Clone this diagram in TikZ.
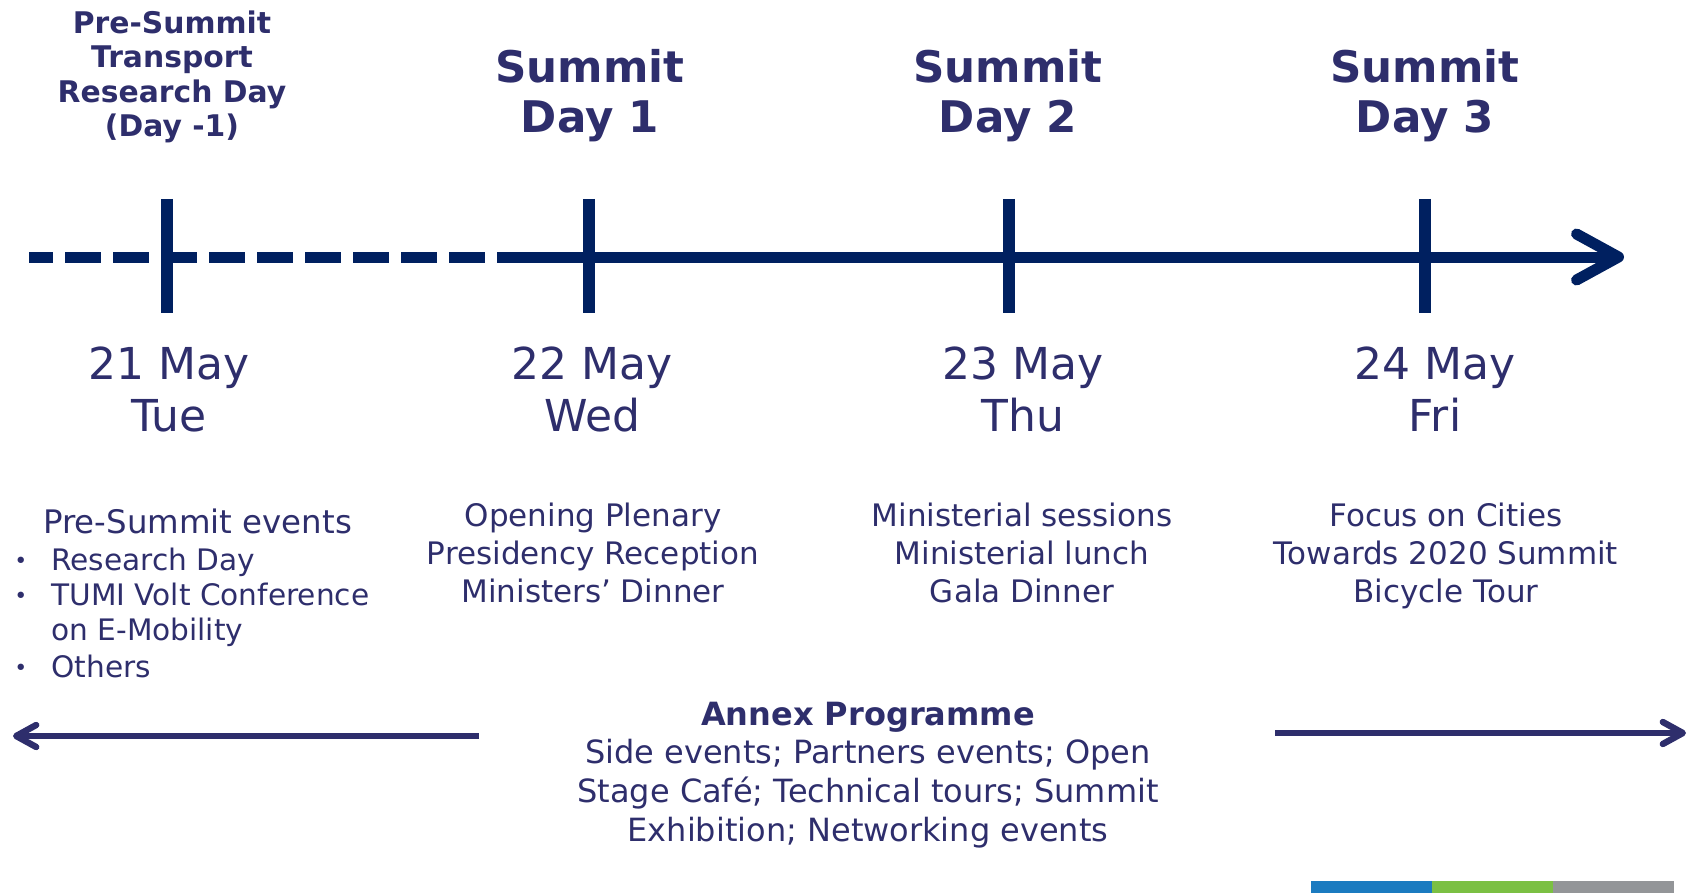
\documentclass[tikz,border=0pt]{standalone}
\usepackage{fontspec}
\setmainfont{DejaVu Sans}
\usetikzlibrary{arrows.meta}
\definecolor{marine}{RGB}{0,32,96}
\definecolor{encre}{RGB}{46,46,108}
\definecolor{bleulogo}{RGB}{27,123,192}
\definecolor{vertlogo}{RGB}{123,192,67}
\definecolor{grislogo}{RGB}{147,149,152}

\begin{document}
\begin{tikzpicture}[
      x=0.5pt, y=-0.5pt,
      axe/.style={
        draw=marine,
        line width=5.5pt
      },
      graduation/.style={
        draw=marine,
        line width=6pt
      },
      annexe/.style={
        draw=encre,
        line width=3.2pt,
        -{Straight Barb[length=10pt,width=11pt,round]}
      },
      titre/.style={
        text=encre,
        font=\bfseries\fontsize{21.8}{25}\selectfont,
        align=center,
        anchor=base,
        inner sep=0pt
      },
      petittitre/.style={
        titre,
        font=\bfseries\fontsize{14.9}{17.3}\selectfont
      },
      jour/.style={
        text=encre,
        font=\fontsize{22}{26}\selectfont,
        align=center,
        anchor=base,
        inner sep=0pt
      },
      programme/.style={
        text=encre,
        font=\fontsize{15.5}{19}\selectfont,
        align=center,
        anchor=base,
        inner sep=0pt
      },
      liste/.style={
        programme,
        font=\fontsize{14.8}{18}\selectfont,
        anchor=base west
      }
    ]
    \useasboundingbox (0,0) rectangle (1690,893);

    % titres
    \node[petittitre] (avant) at (172,137) {Pre-Summit\\Transport\\Research Day\\(Day -1)};
    \node[titre] (s1) at (590,133) {Summit\\Day 1};
    \node[titre] (s2) at (1008,133) {Summit\\Day 2};
    \node[titre] (s3) at (1425,133) {Summit\\Day 3};

    % axe du temps
    \node[coordinate] (debut) at (29,257) {};
    \node[coordinate] (milieu) at (497,257) {};
    \node[coordinate] (fin) at (1624,257) {};
    \draw[axe, dash pattern=on 18pt off 6pt, dash phase=6pt] (debut) -- (milieu);
    \draw[axe, -{Straight Barb[length=21pt,width=23pt,round]}] (milieu) -- (fin);
    \foreach \x/\n in {167/0,589/1,1009/2,1425/3} {
      \node[coordinate] (g\n h) at (\x,199) {};
      \node[coordinate] (g\n b) at (\x,313) {};
      \draw[graduation] (g\n h) -- (g\n b);
    }

    % dates
    \node[jour] (d0) at (169,431) {21 May\\Tue};
    \node[jour] (d1) at (592,431) {22 May\\Wed};
    \node[jour] (d2) at (1023,431) {23 May\\Thu};
    \node[jour] (d3) at (1435,431) {24 May\\Fri};

    % programme
    \node[liste, font=\fontsize{16.2}{18}\selectfont] (ev) at (43,533) {Pre-Summit events};
    \node[liste, font=\fontsize{11}{18}\selectfont] (b1) at (14,568) {•};
    \node[liste] (e1) at (51,570) {Research Day};
    \node[liste, font=\fontsize{11}{18}\selectfont] (b2) at (14,603) {•};
    \node[liste] (e2) at (51,605) {TUMI Volt Conference};
    \node[liste] (e3) at (51,640) {on E-Mobility};
    \node[liste, font=\fontsize{11}{18}\selectfont] (b4) at (14,675) {•};
    \node[liste] (e4) at (51,677) {Others};
    \node[programme] (p1) at (593,602) {Opening Plenary\\Presidency Reception\\Ministers’ Dinner};
    \node[programme] (p2) at (1022,602) {Ministerial sessions\\Ministerial lunch\\Gala Dinner};
    \node[programme] (p3) at (1446,602) {Focus on Cities\\Towards 2020 Summit\\Bicycle Tour};

    % annex
    \node[programme, font=\fontsize{16}{19.3}\selectfont] (annex) at (868,841) {\textbf{Annex Programme}\\Side events; Partners events; Open\\Stage Café; Technical tours; Summit\\Exhibition; Networking events};
    \node[coordinate] (ga) at (479,736) {};
    \node[coordinate] (gb) at (13,736) {};
    \node[coordinate] (da) at (1275,733) {};
    \node[coordinate] (db) at (1686,733) {};
    \draw[annexe] (ga) -- (gb);
    \draw[annexe] (da) -- (db);

    % bandeau
    \fill[bleulogo] (1311,881) rectangle (1432,893);
    \fill[vertlogo] (1432,881) rectangle (1553,893);
    \fill[grislogo] (1553,881) rectangle (1674,893);
  \end{tikzpicture}
\end{document}
